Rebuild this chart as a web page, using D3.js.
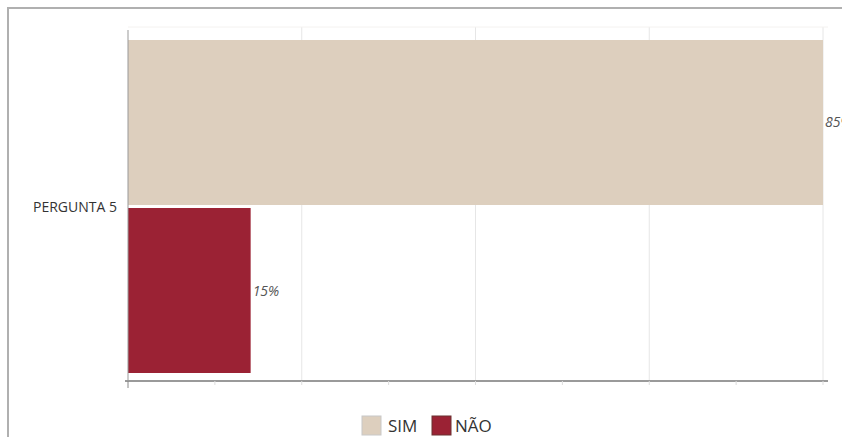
<!DOCTYPE html>
<html>
<head>
<meta charset="utf-8">
<script src="https://cdn.jsdelivr.net/npm/d3@7"></script>
<style>
  body { margin: 0; background: #fff; font-family: "Open Sans", sans-serif; overflow: hidden; }
  .frame { position: absolute; left: 7px; top: 7px; width: 900px; height: 500px; border: 2px solid #b0b0b0; box-sizing: border-box; }
  svg { position: absolute; left: 0; top: 0; }
</style>
</head>
<body>
<div class="frame"></div>
<svg id="chart" width="842" height="437"></svg>
<script>
var categories = ["PERGUNTA 5"];
var seriesNames = ["SIM", "NÃO"];
var simValues = [85];
var naoValues = [15];
var valueLabels = ["85%", "15%"];

var colors = ["#ddcfbe", "#9b2234"];
var svg = d3.select("#chart");
var plotLeft = 128, plotRight = 823, plotTop = 27, plotBottom = 381;

var x = d3.scaleLinear().domain([0, d3.max(simValues)]).range([plotLeft, plotRight]);
// bars sit a little closer to the axis than to the top
var y = d3.scaleBand().domain(categories).range([plotTop + 13, plotBottom - 8]).padding(0);
var ySub = d3.scaleBand().domain(seriesNames).range([0, y.bandwidth()]).paddingInner(0.018);

var xMax = d3.max(simValues);
var majorTicks = d3.range(0, 5).map(function (i) { return xMax * i / 4; });
var minorTicks = d3.range(0, 9).map(function (i) { return xMax * i / 8; });

// gridlines
svg.append("g").selectAll("line")
    .data(majorTicks.slice(1))
    .enter().append("line")
    .attr("x1", function (d) { return x(d); })
    .attr("x2", function (d) { return x(d); })
    .attr("y1", plotTop).attr("y2", plotBottom)
    .attr("stroke", "#e6e6e6").attr("stroke-width", 1);

svg.append("line")
    .attr("x1", plotLeft).attr("x2", plotRight + 5)
    .attr("y1", plotTop).attr("y2", plotTop)
    .attr("stroke", "#f4f2f0");

// bars
var rows = [];
categories.forEach(function (c, i) {
    rows.push({ cat: c, s: "SIM", v: simValues[i], label: valueLabels[0] });
    rows.push({ cat: c, s: "NÃO", v: naoValues[i], label: valueLabels[1] });
});

svg.append("g").selectAll("rect")
    .data(rows)
    .enter().append("rect")
    .attr("x", x(0))
    .attr("y", function (d) { return y(d.cat) + ySub(d.s); })
    .attr("width", function (d) { return x(d.v) - x(0); })
    .attr("height", ySub.bandwidth())
    .attr("fill", function (d) { return colors[seriesNames.indexOf(d.s)]; });

svg.append("g").selectAll("text")
    .data(rows)
    .enter().append("text")
    .attr("x", function (d) { return x(d.v) + 2; })
    .attr("y", function (d) { return y(d.cat) + ySub(d.s) + ySub.bandwidth() / 2 + 5; })
    .attr("font-size", 14)
    .attr("font-style", "italic")
    .attr("fill", "#555")
    .text(function (d) { return d.label; });

// x axis
var xAxis = svg.append("g").attr("transform", "translate(0," + plotBottom + ")");
xAxis.append("line")
    .attr("x1", plotLeft - 3).attr("x2", plotRight + 5)
    .attr("stroke", "#9a9a9a").attr("stroke-width", 2);
xAxis.selectAll(".tick")
    .data(minorTicks)
    .enter().append("line")
    .attr("x1", function (d) { return x(d); })
    .attr("x2", function (d) { return x(d); })
    .attr("y1", 0).attr("y2", function (d, i) { return i === 0 ? 7 : 4; })
    .attr("stroke", function (d, i) { return i === 0 ? "#888" : "#ddd"; });

// y axis
svg.append("line")
    .attr("x1", plotLeft).attr("x2", plotLeft)
    .attr("y1", plotTop + 3).attr("y2", plotBottom)
    .attr("stroke", "#999").attr("stroke-width", 1);

svg.append("g").selectAll("text")
    .data(categories)
    .enter().append("text")
    .attr("x", plotLeft - 11)
    .attr("y", function (d) { return y(d) + y.bandwidth() / 2 + 5; })
    .attr("text-anchor", "end")
    .attr("font-size", 14)
    .attr("fill", "#333")
    .text(function (d) { return d; });

// legend
var legend = svg.append("g").attr("transform", "translate(362,416)");
var legendX = [0, 70];
seriesNames.forEach(function (s, i) {
    var g = legend.append("g").attr("transform", "translate(" + legendX[i] + ",0)");
    g.append("rect").attr("width", 19).attr("height", 19)
        .attr("fill", colors[i]).attr("stroke", i === 0 ? "#c8c8c8" : "#6b3030");
    g.append("text").attr("x", i === 0 ? 26 : 23).attr("y", 16)
        .attr("font-size", 17).attr("fill", "#333").text(s);
});
</script>
</body>
</html>
